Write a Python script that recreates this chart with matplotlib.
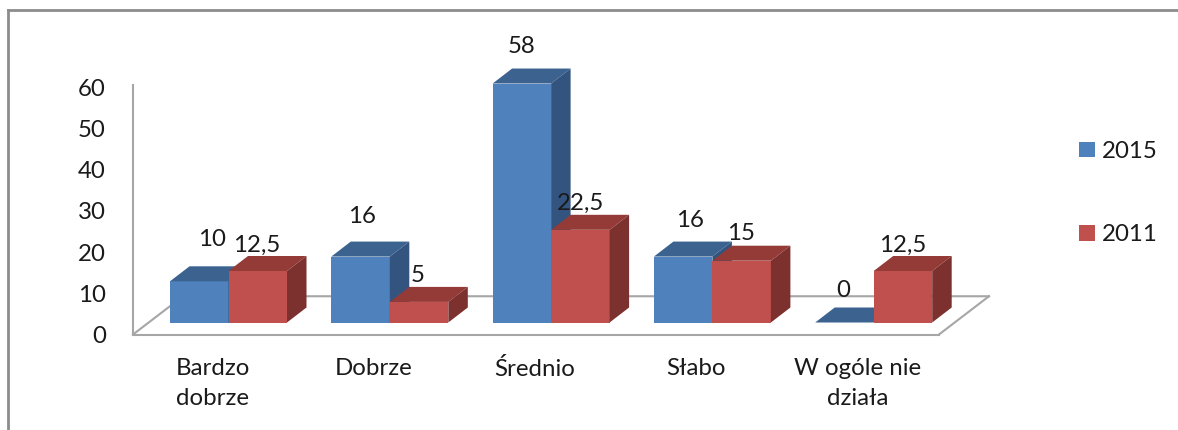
import numpy as np
import matplotlib
matplotlib.use("Agg")
import matplotlib.pyplot as plt
from matplotlib.lines import Line2D

# values
categories = ["Bardzo\ndobrze", "Dobrze", "Średnio", "Słabo", "W ogóle nie\ndziała"]
values_2015 = [10, 16, 58, 16, 0]
values_2011 = [12.5, 5, 22.5, 15, 12.5]
y_ticks = [0, 10, 20, 30, 40, 50, 60]

# layout, in target pixels
W, H = 1178, 430
STEP_PX = 161.3      # one category
UNIT_PX = 4.12       # one y unit
X0_PX = 228.5        # first category centre
Y0_PX = 334.5        # value 0 on the axis
BAR_W = 58.5 / STEP_PX
DX = 19.5 / STEP_PX  # depth of the 3d bars
DY = 15 / UNIT_PX
LIFT = 12 / UNIT_PX  # bars stand a bit behind the front edge of the floor
FS = 17.3


def to_x(px):
    return (px - X0_PX) / STEP_PX


def to_y(py):
    return (Y0_PX - py) / UNIT_PX


BLUE = ("#4f81bd", "#3c6290", "#33547e")
RED = ("#c0504d", "#943a37", "#7d312f")

# label offsets from the top of the front face (px right, px up)
offsets_2015 = [(13, 42), (1, 40), (0, 37), (7, 36), (-1, 32)]
offsets_2011 = [(-1, 26), (-1, 26), (0, 26), (-1, 27), (0, 26)]

plt.rcParams["font.family"] = ["Lato", "DejaVu Sans"]
fig = plt.figure(figsize=(W / 100, H / 100), dpi=100)
ax = fig.add_axes([0, 0, 1, 1])
ax.set_xlim(to_x(0), to_x(W))
ax.set_ylim(to_y(H), to_y(0))
ax.patch.set_visible(False)

GRID = "#a6a6a6"

# floor of the 3d box
floor_x = [to_x(133), to_x(183), to_x(989), to_x(939)]
floor_y = [0, DY * 2.55, DY * 2.55, 0]
ax.plot(floor_x[:3], floor_y[:3], color=GRID, lw=1.5, zorder=1)
ax.plot(floor_x[2:], floor_y[2:], color=GRID, lw=1.5, zorder=1)

x = np.arange(len(categories))


def draw_series(xs, vals, colors, label, base_z):
    ax.bar(xs, vals, BAR_W, bottom=LIFT, align="edge", color=colors[0],
           label=label, zorder=base_z + 1, linewidth=0)
    for i, (x0, v) in enumerate(zip(xs, vals)):
        z = base_z + 2 * i
        top = LIFT + v
        x1 = x0 + BAR_W
        ax.fill([x0, x1, x1 + DX, x0 + DX], [top, top, top + DY, top + DY],
                color=colors[1], lw=0, zorder=z + 1)
        ax.fill([x1, x1 + DX, x1 + DX, x1], [LIFT, LIFT + DY, top + DY, top],
                color=colors[2], lw=0, zorder=z + 1)


draw_series(x - BAR_W, values_2015, BLUE, "2015", 3)
draw_series(x, values_2011, RED, "2011", 20)


def fmt(v):
    return f"{v:g}".replace(".", ",")


for xs, vals, offs in [(x - BAR_W / 2, values_2015, offsets_2015),
                       (x + BAR_W / 2, values_2011, offsets_2011)]:
    for xi, v, (ox, oy) in zip(xs, vals, offs):
        ax.annotate(fmt(v), (xi, LIFT + v), xytext=(ox * 0.72, oy * 0.72),
                    textcoords="offset points", ha="center", va="center",
                    fontsize=FS, color="#1a1a1a", zorder=50)

# axes
for side in ["top", "right"]:
    ax.spines[side].set_visible(False)
ax.spines["left"].set_position(("data", to_x(133)))
ax.spines["left"].set_bounds(0, 60.5)
ax.spines["bottom"].set_position(("data", 0))
ax.spines["bottom"].set_bounds(to_x(133), to_x(939))
for side in ["left", "bottom"]:
    ax.spines[side].set_color(GRID)
    ax.spines[side].set_linewidth(1.5)

ax.set_yticks(y_ticks)
ax.tick_params(axis="y", length=0, pad=19.5, labelsize=FS, labelcolor="#1a1a1a")
ax.set_xticks(x - 16 / STEP_PX)
ax.set_xticklabels(categories, linespacing=1.5)
ax.tick_params(axis="x", length=0, pad=17, labelsize=FS, labelcolor="#1a1a1a")

leg = ax.legend(loc="upper left", bbox_to_anchor=(1079 / W, 1 - 141 / H), frameon=False,
                fontsize=FS, handlelength=0.67, handleheight=0.6, handletextpad=0.3,
                labelspacing=2.6, borderpad=0, borderaxespad=0)
for t in leg.get_texts():
    t.set_color("#1a1a1a")

# outer frame, only top and left are visible in the crop
frame = "#8c8c8c"
fig.add_artist(Line2D([8 / W, 8 / W], [0, 1 - 10 / H], color=frame, lw=2))
fig.add_artist(Line2D([8 / W, 1], [1 - 10 / H, 1 - 10 / H], color=frame, lw=2))

fig.savefig("out.png", dpi=100)
